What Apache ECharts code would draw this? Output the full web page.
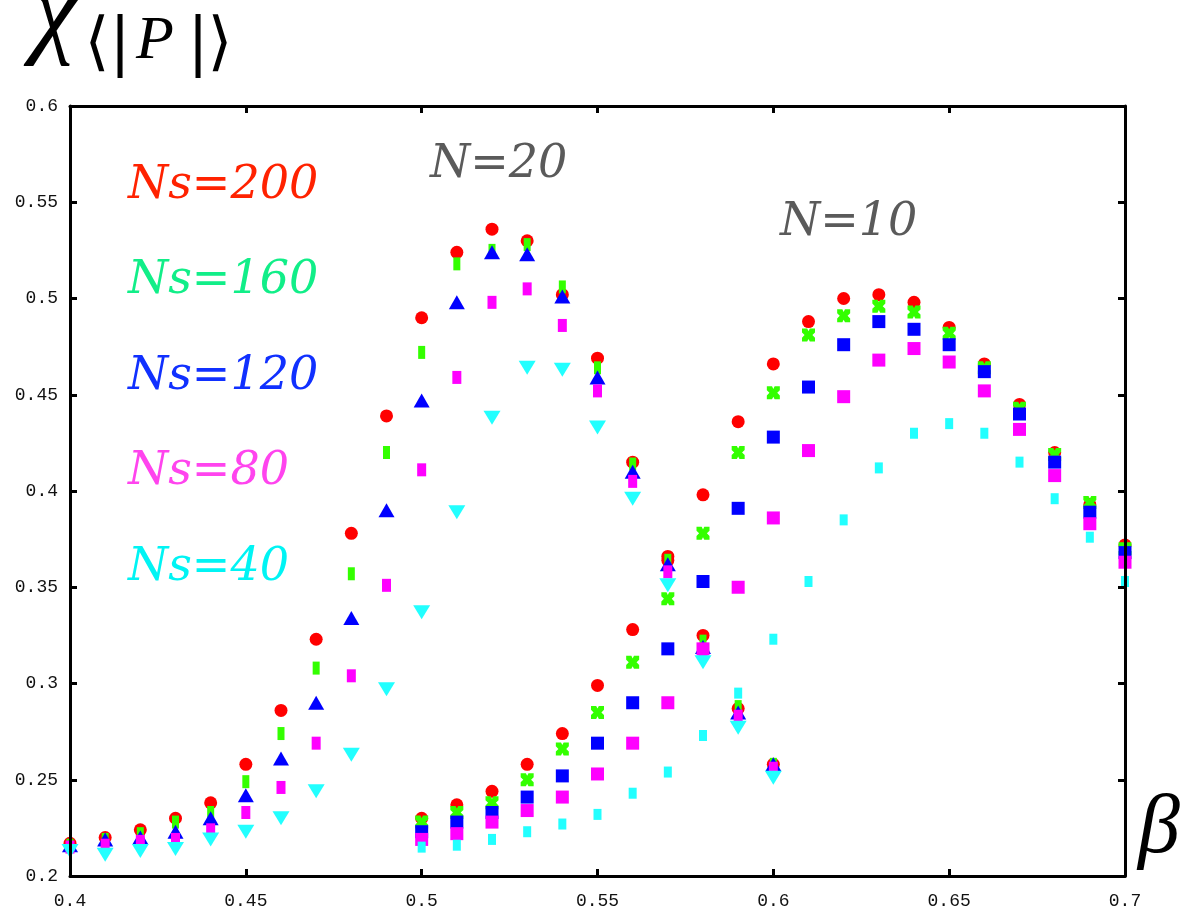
<!DOCTYPE html>
<html>
<head>
<meta charset="utf-8">
<script src="https://cdn.jsdelivr.net/npm/echarts@6/dist/echarts.min.js"></script>
<style>
  html, body { margin: 0; padding: 0; background: #fff; }
  #chart { width: 1187px; height: 914px; }
</style>
</head>
<body>
<div id="chart"></div>
<script>
// Inverse coupling values for the two lattice sizes
const beta20 = [0.40, 0.41, 0.42, 0.43, 0.44, 0.45, 0.46, 0.47, 0.48, 0.49, 0.50,
                0.51, 0.52, 0.53, 0.54, 0.55, 0.56, 0.57, 0.58, 0.59, 0.60];
const beta10 = [0.50, 0.51, 0.52, 0.53, 0.54, 0.55, 0.56, 0.57, 0.58, 0.59, 0.60,
                0.61, 0.62, 0.63, 0.64, 0.65, 0.66, 0.67, 0.68, 0.69, 0.70];

// Susceptibility of <|P|>, N = 20
const n20_ns200 = [0.217, 0.220, 0.224, 0.230, 0.238, 0.258, 0.286, 0.323, 0.378, 0.439, 0.490,
                   0.524, 0.536, 0.530, 0.502, 0.469, 0.415, 0.366, 0.325, 0.287, 0.258];
const n20_ns160 = [0.216, 0.219, 0.222, 0.228, 0.233, 0.249, 0.274, 0.308, 0.357, 0.420, 0.472,
                   0.518, 0.525, 0.528, 0.506, 0.464, 0.414, 0.364, 0.322, 0.288, 0.258];
const n20_ns120 = [0.216, 0.219, 0.220, 0.223, 0.230, 0.242, 0.261, 0.290, 0.334, 0.390, 0.447,
                   0.498, 0.524, 0.523, 0.501, 0.459, 0.410, 0.362, 0.319, 0.285, 0.258];
const n20_ns80  = [0.215, 0.216, 0.218, 0.219, 0.224, 0.233, 0.246, 0.269, 0.304, 0.351, 0.411,
                   0.459, 0.498, 0.505, 0.486, 0.452, 0.405, 0.358, 0.316, 0.283, 0.256];
const n20_ns40  = [0.213, 0.211, 0.213, 0.214, 0.219, 0.223, 0.230, 0.244, 0.263, 0.297, 0.337,
                   0.389, 0.438, 0.464, 0.463, 0.433, 0.396, 0.351, 0.311, 0.277, 0.251];

// Susceptibility of <|P|>, N = 10
const n10_ns200 = [0.230, 0.237, 0.244, 0.258, 0.274, 0.299, 0.328, 0.364, 0.398, 0.436, 0.466,
                   0.488, 0.500, 0.502, 0.498, 0.485, 0.466, 0.445, 0.420, 0.393, 0.372];
const n10_ns160 = [0.228, 0.233, 0.238, 0.250, 0.266, 0.285, 0.311, 0.344, 0.378, 0.420, 0.451,
                   0.481, 0.491, 0.496, 0.493, 0.482, 0.464, 0.443, 0.419, 0.394, 0.370];
const n10_ns120 = [0.223, 0.228, 0.233, 0.241, 0.252, 0.269, 0.290, 0.318, 0.353, 0.391, 0.428,
                   0.454, 0.476, 0.488, 0.484, 0.476, 0.462, 0.440, 0.415, 0.389, 0.368];
const n10_ns80  = [0.219, 0.222, 0.228, 0.234, 0.241, 0.253, 0.269, 0.290, 0.318, 0.350, 0.386,
                   0.421, 0.449, 0.468, 0.474, 0.467, 0.452, 0.432, 0.408, 0.383, 0.363];
const n10_ns40  = [0.215, 0.216, 0.219, 0.223, 0.227, 0.232, 0.243, 0.254, 0.273, 0.295, 0.323,
                   0.353, 0.385, 0.412, 0.430, 0.435, 0.430, 0.415, 0.396, 0.376, 0.353];

// Legend captions and lattice size captions
const nsLabels = ['Ns=200', 'Ns=160', 'Ns=120', 'Ns=80', 'Ns=40'];
const sizeLabels = ['N=20', 'N=10'];

// Axis ranges
const xMin = 0.4, xMax = 0.7, xStep = 0.05;
const yMin = 0.2, yMax = 0.6, yStep = 0.05;

const markerColors = ['#ff0000', '#33ff00', '#0000ff', '#ff00ff', '#22ffff'];
const textColors   = ['#ff2200', '#11ee88', '#1030ff', '#ff44ee', '#00f4f4'];

const bowtie = 'path://M0,0H4L5,2L6,0H10V3L8,5L10,7V10H6L5,8L4,10H0V7L2,5L0,3Z';

const n20Sets = [n20_ns200, n20_ns160, n20_ns120, n20_ns80, n20_ns40];
const n10Sets = [n10_ns200, n10_ns160, n10_ns120, n10_ns80, n10_ns40];

const n20Symbols = [['circle', 13], ['rect', [7, 13]], ['triangle', [16, 14]], ['rect', [9, 13]], ['triangle', [17, 14]]];
const n10Symbols = [['circle', 13], [bowtie, [13, 13]], ['rect', [13, 13]], ['rect', [13, 13]], ['rect', [8, 11]]];

function pairs(xs, ys) {
  return xs.map((x, i) => [x, ys[i]]);
}

const series = [];
for (let k = 0; k < 5; k++) {
  series.push({
    name: nsLabels[k] + ' N=20',
    type: 'scatter',
    clip: false,
    symbol: n20Symbols[k][0],
    symbolSize: n20Symbols[k][1],
    symbolRotate: k === 4 ? 180 : 0,
    itemStyle: { color: markerColors[k], opacity: 1 },
    data: pairs(beta20, n20Sets[k]),
    z: 2 + k
  });
}
for (let k = 0; k < 5; k++) {
  series.push({
    name: nsLabels[k] + ' N=10',
    type: 'scatter',
    clip: false,
    symbol: n10Symbols[k][0],
    symbolSize: n10Symbols[k][1],
    itemStyle: { color: markerColors[k], opacity: 1 },
    data: pairs(beta10, n10Sets[k]),
    z: 2 + k
  });
}

const axisLine = { show: true, onZero: false, lineStyle: { color: '#000', width: 3 } };
const axisTick = { show: true, inside: true, length: 7, lineStyle: { color: '#000', width: 3 } };
const tickFont = { fontFamily: 'Liberation Mono', fontSize: 18, color: '#111' };

const chart = echarts.init(document.getElementById('chart'), null, { renderer: 'canvas' });

const labelFont = 'italic 46px "DejaVu Serif"';
const graphics = nsLabels.map((t, k) => ({
  type: 'text',
  left: 128,
  top: 163 + k * 95.5,
  z: 20,
  style: { text: t, fill: textColors[k], font: labelFont }
}));

// Axis titles: chi with the subscript <|P|>, and beta
function glyph(text, x, y, font, align) {
  return {
    type: 'text', x: x, y: y, z: 20,
    style: { text: text, fill: '#000', font: font, textAlign: align || 'center', textVerticalAlign: 'middle' }
  };
}
const subFont = '64px "DejaVu Serif"';
graphics.push(
  { type: 'text', left: 430, top: 142, z: 20, style: { text: sizeLabels[0], fill: '#5a5a5a', font: labelFont } },
  { type: 'text', left: 780, top: 200, z: 20, style: { text: sizeLabels[1], fill: '#5a5a5a', font: labelFont } },
  glyph('χ', 32, 17, 'italic 104px "Liberation Serif"', 'left'),
  glyph('⟨', 97, 46, subFont),
  glyph('|', 120, 46, subFont),
  glyph('P', 136, 42, 'italic 62px "Liberation Serif"', 'left'),
  glyph('|', 198, 46, subFont),
  glyph('⟩', 220, 46, subFont),
  glyph('β', 1138, 830, 'italic 84px "Liberation Serif"', 'left')
);

chart.setOption({
  animation: false,
  backgroundColor: '#fff',
  grid: { left: 70, right: 62, top: 106, bottom: 38, containLabel: false },
  xAxis: [
    {
      type: 'value', position: 'bottom', min: xMin, max: xMax, interval: xStep, z: 10,
      axisLine, axisTick, splitLine: { show: false },
      axisLabel: Object.assign({ margin: 16 }, tickFont)
    },
    {
      type: 'value', position: 'top', min: xMin, max: xMax, interval: xStep, z: 10,
      axisLine, axisTick, splitLine: { show: false }, axisLabel: { show: false }
    }
  ],
  yAxis: [
    {
      type: 'value', position: 'left', min: yMin, max: yMax, interval: yStep, z: 10,
      axisLine, axisTick, splitLine: { show: false },
      axisLabel: Object.assign({ margin: 12 }, tickFont)
    },
    {
      type: 'value', position: 'right', min: yMin, max: yMax, interval: yStep, z: 10,
      axisLine, axisTick, splitLine: { show: false }, axisLabel: { show: false }
    }
  ],
  graphic: graphics,
  series
});
</script>
</body>
</html>
